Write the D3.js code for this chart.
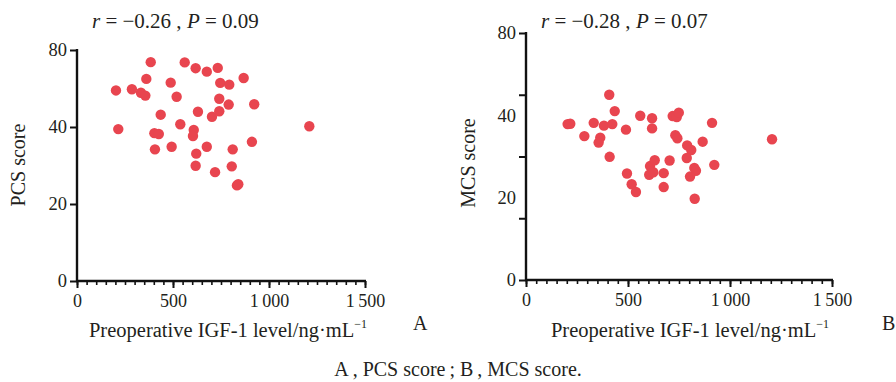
<!DOCTYPE html>
<html>
<head>
<meta charset="utf-8">
<script src="https://cdn.jsdelivr.net/npm/d3@7/dist/d3.min.js"></script>
</head>
<body style="margin:0">
<svg id="chart" width="896" height="382"></svg>
<script>
// ---- Data ----
// Panel A: PCS score vs preoperative IGF-1
const igfA = [203, 215, 286, 333, 356, 361, 384, 436, 403, 426, 406, 488, 493, 519, 538, 561, 618, 608, 604, 630,
              621, 618, 676, 676, 703, 719, 733, 746, 741, 741, 793, 790, 811, 806, 833, 840, 868, 923, 911, 1210];
const pcsA = [66.0, 52.6, 66.4, 65.2, 64.2, 70.0, 75.8, 57.6, 51.2, 50.9, 45.6, 68.7, 46.5, 63.8, 54.3, 75.7, 73.7, 52.3, 50.2, 58.6,
              44.1, 39.9, 72.5, 46.5, 56.9, 37.7, 73.8, 68.6, 63.1, 58.8, 68.0, 61.1, 45.6, 39.7, 33.1, 33.5, 70.3, 61.2, 48.2, 53.6];
// Panel B: MCS score vs preoperative IGF-1
const igfB = [204, 217, 286, 332, 364, 356, 382, 408, 423, 435, 410, 490, 495, 518, 539, 560, 618, 618, 608, 604, 631,
              624, 675, 675, 704, 719, 739, 749, 732, 742, 790, 810, 788, 825, 833, 804, 827, 866, 912, 923, 1206];
const mcsB = [50.5, 50.6, 46.6, 50.9, 46.1, 44.5, 50.0, 60.0, 50.5, 54.7, 39.9, 48.7, 34.5, 31.0, 28.5, 53.2, 52.4, 49.1, 36.9, 34.1, 38.8,
              34.9, 34.6, 30.1, 38.7, 53.1, 52.8, 54.2, 46.9, 45.9, 43.6, 42.1, 39.5, 36.3, 35.4, 33.5, 26.3, 44.8, 50.9, 37.3, 45.6];

// Axis ticks and labels
const xMajorTicks = [0, 500, 1000, 1500];
const xMajorLabels = ["0", "500", "1\u2009000", "1\u2009500"];
const xMinorTicks = d3.range(0, 1501, 50);
const yTicksA = [0, 80 / 3, 160 / 3, 80];
const yTicksB = [0, 20, 40, 60, 80];
const yLabelPos = [0, 80 / 3, 160 / 3, 80];
const yLabels = ["0", "20", "40", "80"];

const statsA = { r: "\u22120.26", p: "0.09" };
const statsB = { r: "\u22120.28", p: "0.07" };

// ---- Drawing ----
const FONT = "Liberation Serif";
const TXT = "#231f20";
const svg = d3.select("#chart");
const dotColor = "#e8454f";
const axisColor = "#111";

function txt(sel) {
  return sel.attr("font-family", FONT).style("font-family", '"Liberation Serif"').attr("fill", TXT);
}

function panel(cfg) {
  const x = d3.scaleLinear().domain([0, 1500]).range([cfg.x0, cfg.x1]);
  const y = d3.scaleLinear().domain([0, 80]).range([cfg.y0, cfg.y1]);
  const g = svg.append("g");

  // minor x ticks
  const minor = g.append("g").attr("transform", `translate(0,${cfg.y0})`)
    .call(d3.axisBottom(x).tickValues(xMinorTicks).tickSize(4).tickFormat(""));
  minor.select(".domain").remove();
  minor.selectAll("line").attr("stroke", axisColor).attr("stroke-width", 1.6);

  // major x axis
  const xa = g.append("g").attr("transform", `translate(0,${cfg.y0})`)
    .call(d3.axisBottom(x).tickValues(xMajorTicks).tickSize(7).tickPadding(6)
      .tickFormat((d, i) => xMajorLabels[i]));
  xa.attr("font-family", FONT);
  xa.select(".domain").attr("stroke", axisColor).attr("stroke-width", 2.4)
    .attr("d", `M${cfg.x0 - 1},0H${cfg.x1 + 1}`);
  xa.selectAll("line").attr("stroke", axisColor).attr("stroke-width", 2);
  txt(xa.selectAll("text")).attr("font-size", 18);

  // y axis
  const ya = g.append("g").attr("transform", `translate(${cfg.x0},0)`)
    .call(d3.axisLeft(y).tickValues(cfg.yTicks).tickSize(7).tickFormat(""));
  ya.select(".domain").attr("stroke", axisColor).attr("stroke-width", 2.4)
    .attr("d", `M0,${cfg.y0 + 1}V${cfg.y1 - 1}`);
  ya.selectAll("line").attr("stroke", axisColor).attr("stroke-width", 2);

  // y labels
  txt(g.append("g").selectAll("text").data(yLabelPos).join("text"))
    .attr("x", cfg.x0 - 10).attr("y", d => y(d)).attr("dy", "0.34em")
    .attr("text-anchor", "end").attr("font-size", 18.5)
    .text((d, i) => yLabels[i]);

  // dots
  g.append("g").selectAll("circle").data(cfg.xs).join("circle")
    .attr("cx", d => x(d)).attr("cy", (d, i) => y(cfg.ys[i])).attr("r", 5.2)
    .attr("fill", dotColor);

  // stats text
  const st = txt(g.append("text")).attr("x", cfg.statX).attr("y", 28).attr("font-size", 21);
  st.append("tspan").attr("font-style", "italic").text("r");
  st.append("tspan").text(` = ${cfg.stats.r} , `);
  st.append("tspan").attr("font-style", "italic").text("P");
  st.append("tspan").text(` = ${cfg.stats.p}`);

  // y title
  txt(g.append("text")).attr("transform", `translate(${cfg.yTitleX},${cfg.yTitleY}) rotate(-90)`)
    .attr("text-anchor", "middle").attr("dy", "0.35em").attr("font-size", 20).text(cfg.yTitle);

  // x title
  const xt = txt(g.append("text")).attr("x", cfg.xTitleX).attr("y", 337).attr("text-anchor", "middle").attr("font-size", 20.5);
  xt.append("tspan").text("Preoperative IGF-1 level/ng\u00b7mL");
  xt.append("tspan").attr("font-size", 12).attr("dy", -9).text("\u22121");

  // panel letter
  txt(g.append("text")).attr("x", cfg.letterX).attr("y", 330).attr("font-size", 20).text(cfg.letter);
}

panel({ x0: 77, x1: 365, y0: 281, y1: 50, yTicks: yTicksA, xs: igfA, ys: pcsA, stats: statsA, statX: 92,
        yTitle: "PCS score", yTitleX: 18, yTitleY: 165, xTitleX: 228, letter: "A", letterX: 413 });
panel({ x0: 526, x1: 832, y0: 280, y1: 33, yTicks: yTicksB, xs: igfB, ys: mcsB, stats: statsB, statX: 541,
        yTitle: "MCS score", yTitleX: 468, yTitleY: 163, xTitleX: 690, letter: "B", letterX: 882 });

// caption
txt(svg.append("text")).attr("x", 458).attr("y", 376).attr("text-anchor", "middle").attr("font-size", 20)
  .text("A\u2009, PCS score\u2009; B\u2009, MCS score.");
</script>
</body>
</html>
